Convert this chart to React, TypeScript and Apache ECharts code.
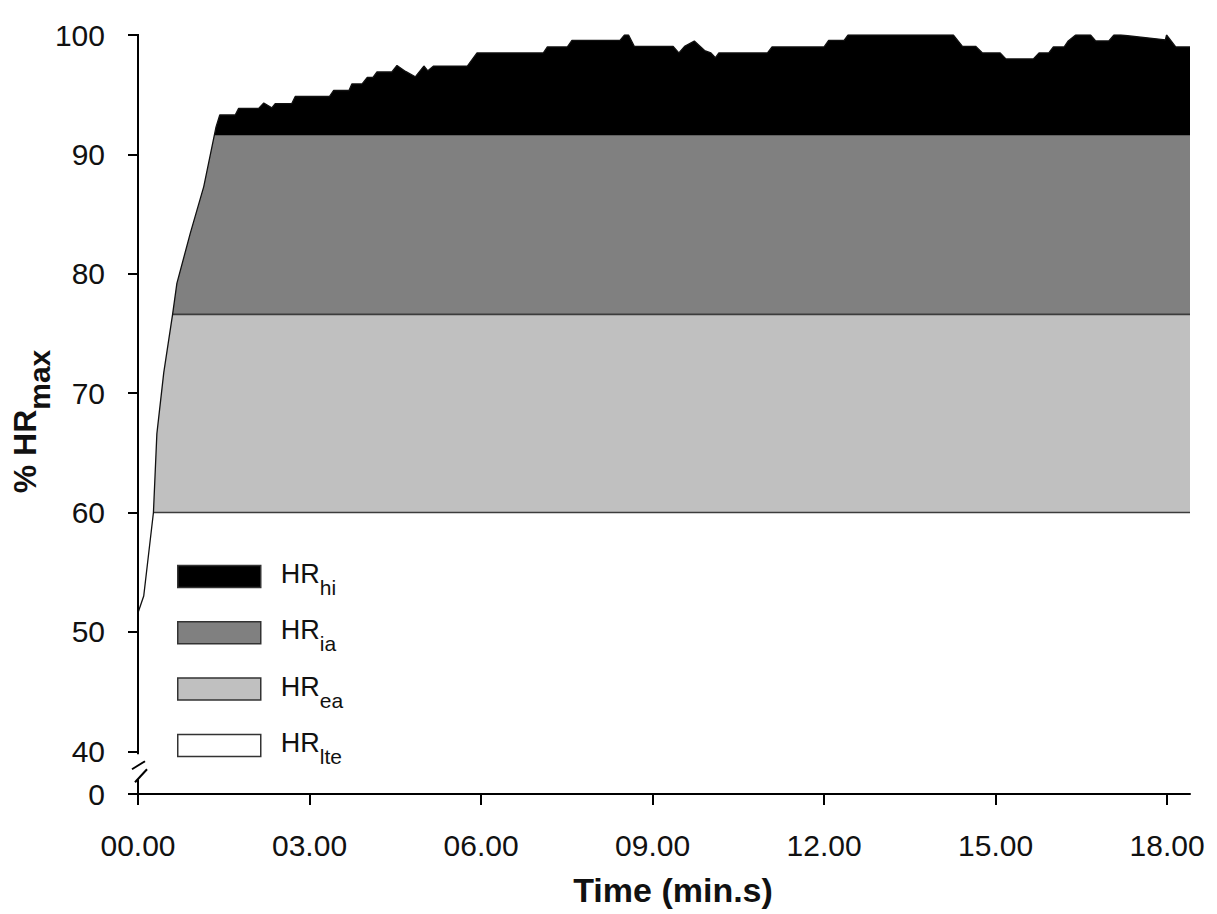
import React, { useEffect, useRef } from 'react';
import * as echarts from 'echarts';

// Heart-rate trace (% of HRmax) against time in minutes
const timeMin = [
  0, 0.1, 0.185, 0.27, 0.33, 0.45, 0.605, 0.68, 0.915, 1.15, 1.365, 1.43,
  1.7, 1.76, 2.11, 2.2, 2.34, 2.4, 2.69, 2.75, 3.35, 3.42, 3.69, 3.74, 3.92,
  4.01, 4.11, 4.18, 4.44, 4.53, 4.68, 4.85, 5.0, 5.07, 5.17, 5.76, 5.93,
  7.09, 7.16, 7.51, 7.59, 8.43, 8.51, 8.58, 8.68, 9.36, 9.46, 9.56, 9.73,
  9.91, 10.02, 10.1, 10.16, 11.01, 11.09, 12.0, 12.08, 12.35, 12.42, 14.26,
  14.42, 14.65, 14.77, 15.08, 15.18, 15.66, 15.76, 15.93, 16.01, 16.2, 16.27,
  16.4, 16.66, 16.75, 16.98, 17.07, 17.19, 17.97, 17.99, 18.15, 18.4,
];
const hrPct = [
  51.6, 53.0, 56.5, 60.0, 66.6, 71.7, 76.6, 79.2, 83.4, 87.3, 92.3, 93.3,
  93.3, 93.85, 93.85, 94.3, 93.9, 94.25, 94.25, 94.85, 94.85, 95.35, 95.35, 95.9, 95.9,
  96.45, 96.45, 96.9, 96.9, 97.45, 96.95, 96.5, 97.4, 97.0, 97.4, 97.4, 98.5,
  98.5, 99.0, 99.0, 99.55, 99.55, 100.0, 100.0, 99.05, 99.05, 98.5, 99.05, 99.5,
  98.7, 98.5, 98.1, 98.5, 98.5, 99.0, 99.0, 99.55, 99.55, 100.0, 100.0,
  99.05, 99.05, 98.5, 98.5, 98.0, 98.0, 98.5, 98.5, 99.0, 99.0, 99.5,
  100.0, 100.0, 99.5, 99.5, 100.0, 100.0, 99.6, 100.0, 99.0, 99.0,
];

// Intensity zones: upper bound of each zone (% HRmax)
const bandNames = ['HR_hi', 'HR_ia', 'HR_ea', 'HR_lte'];
const bandTops = [100, 91.6, 76.6, 60];
const bandColors = ['#000000', '#808080', '#c0c0c0', '#ffffff'];
const bandEdgeWidths = [0, 0, 1.6, 1.6];

const xTicks = [0, 3, 6, 9, 12, 15, 18];
const X_MAX = 18.4;
const yTicks = [40, 50, 60, 70, 80, 90, 100];
const Y_MIN = 36.42; // position shown as "0" below the axis break

const SANS = "'Liberation Sans', Arial, Helvetica, sans-serif";

export default function App() {
  const ref = useRef<HTMLDivElement>(null);

  useEffect(() => {
    if (!ref.current) return;
    const chart = echarts.init(ref.current, undefined, { renderer: 'svg' });

    const bandSeries = bandNames.map((name, i) => ({
      type: 'line',
      name,
      data: [
        [0, bandTops[i]],
        [X_MAX, bandTops[i]],
      ],
      symbol: 'none',
      color: bandColors[i],
      itemStyle: { color: bandColors[i] },
      lineStyle: {
        width: bandEdgeWidths[i] || 1,
        opacity: bandEdgeWidths[i] ? 1 : 0,
        color: '#3c3c3c',
      },
      areaStyle: { color: bandColors[i], opacity: 1, origin: 'start' },
      z: 1 + i,
      silent: true,
    }));

    const option: any = {
      animation: false,
      backgroundColor: '#ffffff',
      grid: { left: 138, right: 27, top: 35, bottom: 120, containLabel: false, outerBoundsMode: 'none' },
      legend: {
        data: bandNames,
        orient: 'vertical',
        left: 177,
        top: 555,
        padding: 0,
        z: 20,
        itemWidth: 83,
        itemHeight: 22,
        itemGap: 13.3,
        icon: 'rect',
        selectedMode: false,
        itemStyle: { borderColor: '#333333', borderWidth: 1.5 },
        formatter: (name: string) => {
          const [m, s] = name.split('_');
          return `{a|${m}}{b|${s}}`;
        },
        textStyle: {
          color: '#111',
          fontFamily: SANS,
          rich: {
            a: { fontSize: 27, lineHeight: 27, padding: [0, 0, 5, 15], fontFamily: SANS, color: '#111' },
            b: { fontSize: 21, lineHeight: 21, padding: [22, 0, 0, 0], fontFamily: SANS, color: '#111' },
          },
        },
      },
      xAxis: {
        type: 'value',
        min: 0,
        max: X_MAX,
        interval: 3,
        z: 10,
        name: 'Time (min.s)',
        nameLocation: 'middle',
        nameGap: 79,
        nameMoveOverlap: false,
        nameTextStyle: {
          fontFamily: SANS,
          fontWeight: 'bold',
          fontSize: 34,
          color: '#111',
          padding: [0, 0, 0, 18],
        },
        axisLine: { show: true, onZero: false, lineStyle: { color: '#000', width: 2 } },
        axisTick: { show: true, inside: false, length: 11, lineStyle: { color: '#000', width: 2 }, customValues: xTicks },
        axisLabel: {
          customValues: xTicks,
          margin: 36,
          fontSize: 30,
          fontFamily: SANS,
          color: '#111',
          formatter: (v: number) => `${v < 10 ? '0' : ''}${v}.00`,
        },
        splitLine: { show: false },
      },
      yAxis: {
        type: 'value',
        min: Y_MIN,
        max: 100,
        z: 10,
        name: '{a|% HR}{b|max}',
        nameLocation: 'middle',
        nameRotate: 90,
        nameGap: 95,
        nameMoveOverlap: false,
        nameTextStyle: {
          color: '#111',
          padding: [0, 14, 0, 0],
          rich: {
            a: { fontSize: 32, lineHeight: 36, fontWeight: 'bold', fontFamily: SANS, color: '#111' },
            b: { fontSize: 30, lineHeight: 30, fontWeight: 'bold', fontFamily: SANS, color: '#111', padding: [28, 0, 0, 0] },
          },
        },
        axisLine: { show: false },
        axisTick: {
          show: true,
          inside: false,
          length: 10,
          lineStyle: { color: '#000', width: 2 },
          customValues: [Y_MIN, ...yTicks],
        },
        axisLabel: {
          customValues: [Y_MIN, ...yTicks],
          margin: 33,
          fontSize: 30,
          fontFamily: SANS,
          color: '#111',
          formatter: (v: number) => (v < 40 ? '0' : String(v)),
        },
        splitLine: { show: false },
      },
      series: [
        ...bandSeries,
        {
          type: 'line',
          name: 'HR',
          data: timeMin.map((t, i) => [t, hrPct[i]]),
          symbol: 'none',
          lineStyle: { color: '#111', width: 1.3 },
          areaStyle: { color: '#ffffff', opacity: 1, origin: 'end' },
          z: 8,
          silent: true,
        },
      ],
    };

    chart.setOption(option);

    const px = (x: number, y: number) => chart.convertToPixel({ gridIndex: 0 }, [x, y]) as number[];
    const [ax, yTop] = px(0, 100);
    const [, y40] = px(0, 40);
    const [, yBot] = px(0, Y_MIN);
    const stroke = { stroke: '#000', lineWidth: 2 };
    chart.setOption({
      graphic: [
        { type: 'line', z: 100, shape: { x1: ax, y1: yTop - 1, x2: ax, y2: y40 + 3 }, style: stroke },
        { type: 'line', z: 100, shape: { x1: ax, y1: y40 + 28, x2: ax, y2: yBot + 1 }, style: stroke },
        { type: 'line', z: 100, shape: { x1: ax - 6, y1: y40 + 18, x2: ax + 7, y2: y40 + 10 }, style: stroke },
        { type: 'line', z: 100, shape: { x1: ax - 3, y1: y40 + 31, x2: ax + 9, y2: y40 + 18 }, style: stroke },
      ],
    });

    return () => chart.dispose();
  }, []);

  return (
    <div
      ref={ref}
      style={{ position: 'fixed', left: 0, top: 0, width: 1217, height: 914, background: '#fff' }}
    />
  );
}
